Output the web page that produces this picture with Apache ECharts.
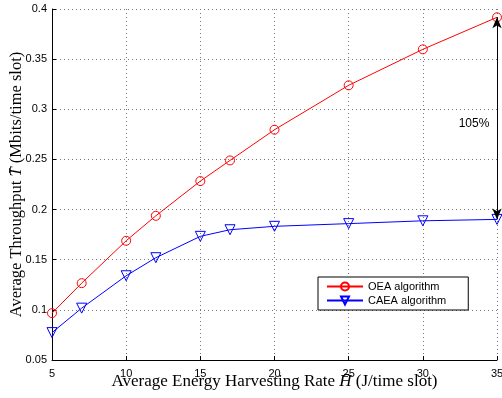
<!DOCTYPE html>
<html>
<head>
<meta charset="utf-8">
<script src="https://cdn.jsdelivr.net/npm/echarts@6/dist/echarts.min.js"></script>
<style>
  html, body { margin: 0; padding: 0; background: #fff; }
  #chart { width: 502px; height: 398px; }
</style>
</head>
<body>
<div id="chart"></div>
<script>
// energy harvesting rate (x) and throughput of each algorithm
const harvestRates = [5, 7, 10, 12, 15, 17, 20, 25, 30, 35]
const oeaThroughput = [0.0967, 0.1266, 0.1689, 0.1938, 0.2284, 0.249, 0.2796, 0.3239, 0.3598, 0.3917]
const caeaThroughput = [0.0773, 0.1017, 0.134, 0.152, 0.1733, 0.1799, 0.1833, 0.186, 0.1888, 0.1902]
const gainLabel = '105%'

const chart = echarts.init(document.getElementById('chart'))

const toPairs = (ys) => harvestRates.map((x, i) => [x, ys[i]])
const lastX = harvestRates[harvestRates.length - 1]

const axisCommon = {
  axisLine: { lineStyle: { color: '#000', width: 1 } },
  axisTick: { inside: true, length: 4, lineStyle: { color: '#000' } },
  splitLine: { show: true, lineStyle: { color: '#777', type: [1, 3], width: 1 } },
  axisLabel: { color: '#000', fontFamily: 'Liberation Sans', fontSize: 11 },
  nameLocation: 'middle',
  nameMoveOverlap: false,
}

const nameStyle = (size) => ({
  fontFamily: 'Liberation Serif', fontSize: size, lineHeight: size + 2, color: '#000',
  verticalAlign: 'middle',
  rich: {
    i: { fontFamily: 'Liberation Serif', fontStyle: 'italic', fontSize: size, lineHeight: size + 2 },
  },
})

chart.setOption({
  animation: false,
  grid: { left: 52, right: 5, top: 9, bottom: 38, outerBoundsMode: 'none', containLabel: false },
  legend: {
    orient: 'vertical',
    left: 318,
    top: 277,
    padding: [4, 22, 4, 8],
    itemWidth: 36,
    itemHeight: 10,
    itemGap: 3,
    borderColor: '#000',
    borderWidth: 1,
    borderRadius: 0,
    backgroundColor: '#fff',
    textStyle: { fontFamily: 'Liberation Sans', fontSize: 11, color: '#000' },
    data: ['OEA algorithm', 'CAEA algorithm'],
  },
  xAxis: {
    ...axisCommon,
    type: 'value',
    min: 5,
    max: 35,
    interval: 5,
    name: 'Average Energy Harvesting Rate {i|H̄} (J/time slot)',
    nameGap: 22,
    nameTextStyle: nameStyle(17),
    axisLabel: { ...axisCommon.axisLabel, margin: 8 },
  },
  yAxis: {
    ...axisCommon,
    type: 'value',
    min: 0.05,
    max: 0.4,
    interval: 0.05,
    name: 'Average Throughput {i|T̄} (Mbits/time slot)',
    nameGap: 35,
    nameTextStyle: nameStyle(16.5),
    axisLabel: {
      ...axisCommon.axisLabel,
      margin: 5,
      formatter: (v) => String(+v.toFixed(2)),
    },
  },
  series: [
    {
      name: 'OEA algorithm',
      type: 'line',
      data: toPairs(oeaThroughput),
      color: '#ff0000',
      lineStyle: { width: 1, color: '#ff0000' },
      symbol: 'circle',
      symbolSize: 9,
      itemStyle: { color: 'transparent', borderColor: '#ff0000', borderWidth: 1 },
      z: 3,
      markLine: {
        silent: true,
        symbol: ['arrow', 'arrow'],
        symbolSize: [7, 11],
        lineStyle: { color: '#000', width: 1, type: 'solid' },
        label: { show: false },
        data: [[
          { coord: [lastX, oeaThroughput[oeaThroughput.length - 1]] },
          { coord: [lastX, caeaThroughput[caeaThroughput.length - 1]] },
        ]],
      },
      markPoint: {
        silent: true,
        symbol: 'circle',
        symbolSize: 0,
        label: {
          show: true,
          formatter: gainLabel,
          color: '#000',
          fontFamily: 'Liberation Sans',
          fontSize: 12,
        },
        data: [{ coord: [33.45, 0.286] }],
      },
    },
    {
      name: 'CAEA algorithm',
      type: 'line',
      data: toPairs(caeaThroughput),
      color: '#0000ff',
      lineStyle: { width: 1, color: '#0000ff' },
      symbol: 'triangle',
      symbolRotate: 180,
      symbolSize: 10,
      itemStyle: { color: 'transparent', borderColor: '#0000ff', borderWidth: 1 },
      z: 3,
    },
  ],
})
</script>
</body>
</html>
